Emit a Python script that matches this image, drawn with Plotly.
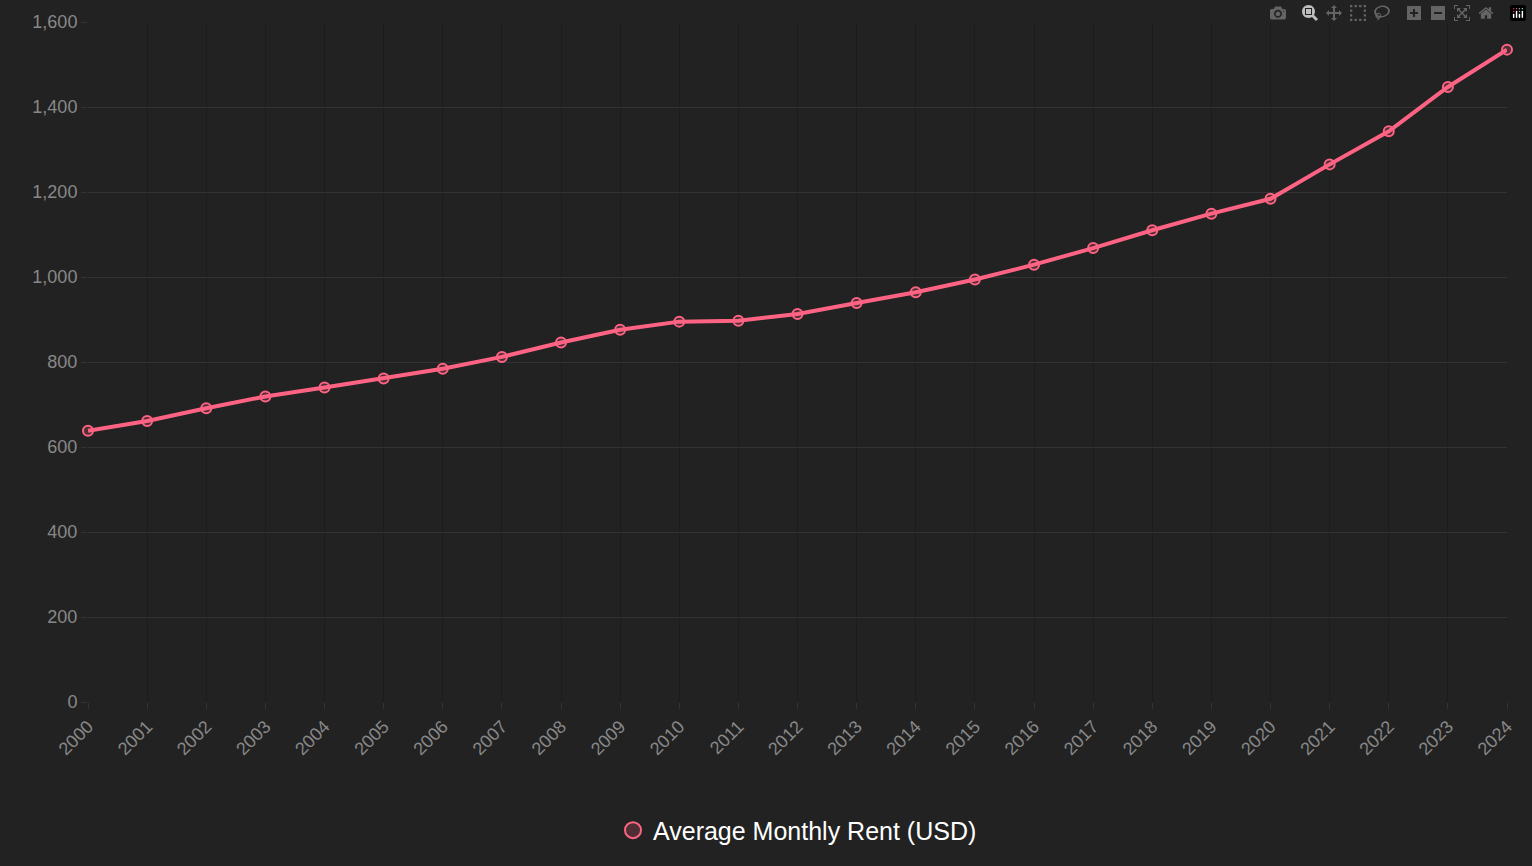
import plotly.graph_objects as go

years = [str(y) for y in range(2000, 2025)]
rent = [638, 661, 691, 719, 740, 761, 784, 812, 846, 876, 895, 897, 913, 939,
        964, 994, 1029, 1068, 1110, 1149, 1184, 1265, 1343, 1447, 1535]

fig = go.Figure()
fig.add_trace(go.Scatter(
    x=years, y=rent, mode='lines+markers',
    name='Average Monthly Rent (USD)', showlegend=False, cliponaxis=False,
    line=dict(color='#ff6384', width=4),
    marker=dict(size=10, color='rgba(255,99,132,0.2)', symbol='circle',
                line=dict(color='#ff6384', width=2)),
))
# legend entry: marker only, like the reference
fig.add_trace(go.Scatter(
    x=[None], y=[None], mode='markers', name='Average Monthly Rent (USD)',
    marker=dict(size=18, color='rgba(255,99,132,0.2)', symbol='circle',
                line=dict(color='#ff6384', width=2)),
))

fig.update_layout(
    paper_bgcolor='#222222', plot_bgcolor='#222222',
    width=1532, height=866,
    margin=dict(l=88, r=25, t=20, b=154),
    font=dict(family='Liberation Sans, Arial', color='#888888', size=18),
    showlegend=True,
    legend=dict(orientation='h', x=0.5, xanchor='center', y=-0.155, yanchor='top',
                font=dict(color='#ffffff', size=25)),
    xaxis=dict(type='category', range=[0, 24], showgrid=True, gridcolor='#1c1c1c',
               tickangle=-45, zeroline=False, ticks='outside', tickcolor='#333333',
               ticklen=6),
    yaxis=dict(range=[0, 1600], dtick=200, tickformat=',', gridcolor='#333333',
               zeroline=False, ticks='outside', tickcolor='#333333', ticklen=6),
)

fig.write_html("out.html",
               post_script="document.body.style.margin='0';document.body.style.background='#222222';")
